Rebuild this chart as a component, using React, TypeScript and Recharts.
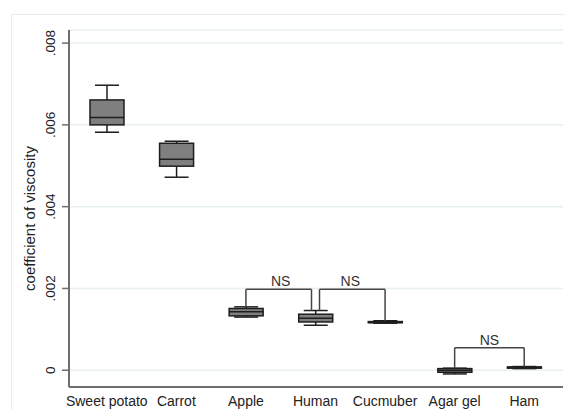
import React from "react";
import { Bar, CartesianGrid, ComposedChart, ReferenceLine, XAxis, YAxis } from "recharts";

const categories = ["Sweet potato", "Carrot", "Apple", "Human", "Cucmuber", "Agar gel", "Ham"];
const whiskerLow = [0.00582, 0.00472, 0.0013, 0.0011, 0.00115, -0.00009, 0.00004];
const q1 = [0.006, 0.00499, 0.00133, 0.00118, 0.00116, -0.00005, 0.00005];
const median = [0.00618, 0.00516, 0.00143, 0.00127, 0.00118, 0.0, 0.00007];
const q3 = [0.00661, 0.00555, 0.00151, 0.00137, 0.00119, 0.00004, 0.00008];
const whiskerHigh = [0.00697, 0.0056, 0.00155, 0.00146, 0.00121, 0.00005, 0.00009];

const yTicks = [0, 0.002, 0.004, 0.006, 0.008];

// NS brackets: from category, to category, bar height, leg ends
const bracketFrom = ["Apple", "Human", "Agar gel"];
const bracketTo = ["Human", "Cucmuber", "Ham"];
const bracketTop = [0.00198, 0.00198, 0.00055];
const bracketFromEnd = [0.00155, 0.00146, 0.00005];
const bracketToEnd = [0.00146, 0.00121, 0.00009];
const bracketLabel = ["NS", "NS", "NS"];
// small horizontal nudges so the two brackets at Human don't touch
const BRACKET_DX = [
  [0, -4],
  [4, 0],
  [0, 0],
];

const data = categories.map((name, i) => ({
  name,
  range: [whiskerLow[i], whiskerHigh[i]],
  lo: whiskerLow[i],
  q1: q1[i],
  med: median[i],
  q3: q3[i],
  hi: whiskerHigh[i],
}));

const FONT = "'Liberation Sans', Arial, sans-serif";
const AXIS_COLOR = "#6e6e6e";
const BOX_STROKE = "#1e1e1e";
const CAP_W = 24;

function BoxShape(props: any) {
  const { x, y, width, height, payload } = props;
  const top = Math.min(y, y + height);
  const bottom = Math.max(y, y + height);
  const span = payload.hi - payload.lo;
  const py = (v: number) => bottom - ((v - payload.lo) / span) * (bottom - top);
  const cx = x + width / 2;
  return (
    <g>
      <line x1={cx} x2={cx} y1={py(payload.hi)} y2={py(payload.q3)} stroke={BOX_STROKE} strokeWidth={1.5} />
      <line x1={cx} x2={cx} y1={py(payload.q1)} y2={py(payload.lo)} stroke={BOX_STROKE} strokeWidth={1.5} />
      <line x1={cx - CAP_W / 2} x2={cx + CAP_W / 2} y1={py(payload.hi)} y2={py(payload.hi)} stroke={BOX_STROKE} strokeWidth={1.5} />
      <line x1={cx - CAP_W / 2} x2={cx + CAP_W / 2} y1={py(payload.lo)} y2={py(payload.lo)} stroke={BOX_STROKE} strokeWidth={1.5} />
      <rect
        x={x}
        y={py(payload.q3)}
        width={width}
        height={Math.max(py(payload.q1) - py(payload.q3), 1)}
        fill="#7f7f7f"
        stroke={BOX_STROKE}
        strokeWidth={1.5}
      />
      <line x1={x} x2={x + width} y1={py(payload.med)} y2={py(payload.med)} stroke={BOX_STROKE} strokeWidth={1.5} />
    </g>
  );
}

function YTick(props: any) {
  const { x, y, payload } = props;
  const label = payload.value === 0 ? "0" : payload.value.toFixed(3).replace(/^0/, "");
  const cx = x - 9.5;
  return (
    <text
      x={cx}
      y={y}
      transform={`rotate(-90 ${cx} ${y})`}
      textAnchor="middle"
      dominantBaseline="central"
      fontSize={13.5}
      fontFamily={FONT}
      fill="#222"
    >
      {label}
    </text>
  );
}

function YLabel(props: any) {
  const vb = props.viewBox || { y: 22, height: 357 };
  const cx = 21.5;
  const cy = vb.y + vb.height / 2 + 10;
  return (
    <text
      x={cx}
      y={cy}
      transform={`rotate(-90 ${cx} ${cy})`}
      textAnchor="middle"
      dominantBaseline="central"
      fontSize={15}
      fontFamily={FONT}
      fill="#222"
    >
      coefficient of viscosity
    </text>
  );
}

const shifted = (d1: number, d2: number) => (p: any) => (
  <line x1={p.x1 + d1} y1={p.y1} x2={p.x2 + d2} y2={p.y2} stroke="#454545" strokeWidth={1.5} />
);

export default function App() {
  return (
    <div style={{ position: "relative", width: 557, height: 402 }}>
      <div
        style={{
          position: "absolute",
          left: 3,
          top: 6,
          width: 554,
          height: 396,
          borderTop: "1px solid #e6eded",
          borderLeft: "1px solid #e6eded",
          boxSizing: "border-box",
        }}
      />
      <ComposedChart
        width={557}
        height={402}
        data={data}
        margin={{ top: 22, right: 2, left: 0, bottom: 0 }}
        style={{ position: "absolute", left: 0, top: 0 }}
      >
        <CartesianGrid vertical={false} stroke="#e8f0f0" strokeWidth={1.5} />
        <XAxis
          dataKey="name"
          height={23}
          padding={{ left: 3, right: 4 }}
          tickLine={false}
          tickSize={6}
          tickMargin={3}
          axisLine={{ stroke: AXIS_COLOR, strokeWidth: 2 }}
          tick={{ fontSize: 14, fill: "#222", fontFamily: FONT }}
          interval={0}
        />
        <YAxis
          type="number"
          width={61}
          domain={[-0.00041, 0.00832]}
          ticks={yTicks}
          allowDataOverflow
          tickSize={7}
          tickMargin={2}
          tickLine={{ stroke: AXIS_COLOR, strokeWidth: 1.5 }}
          axisLine={{ stroke: AXIS_COLOR, strokeWidth: 2 }}
          tick={<YTick />}
          label={<YLabel />}
        />
        <Bar dataKey="range" barSize={34} shape={(p: any) => <BoxShape {...p} />} isAnimationActive={false} />
        {bracketFrom.map((from, i) => {
          const to = bracketTo[i];
          const [dA, dB] = BRACKET_DX[i];
          return [
            <ReferenceLine
              key={`h${i}`}
              segment={[
                { x: from, y: bracketTop[i] },
                { x: to, y: bracketTop[i] },
              ]}
              shape={shifted(dA, dB)}
              label={{ value: bracketLabel[i], position: "top", offset: 3, fontSize: 14, fill: "#333", fontFamily: FONT }}
            />,
            <ReferenceLine
              key={`a${i}`}
              segment={[
                { x: from, y: bracketTop[i] },
                { x: from, y: bracketFromEnd[i] },
              ]}
              shape={shifted(dA, dA)}
            />,
            <ReferenceLine
              key={`b${i}`}
              segment={[
                { x: to, y: bracketTop[i] },
                { x: to, y: bracketToEnd[i] },
              ]}
              shape={shifted(dB, dB)}
            />,
          ];
        })}
      </ComposedChart>
    </div>
  );
}
